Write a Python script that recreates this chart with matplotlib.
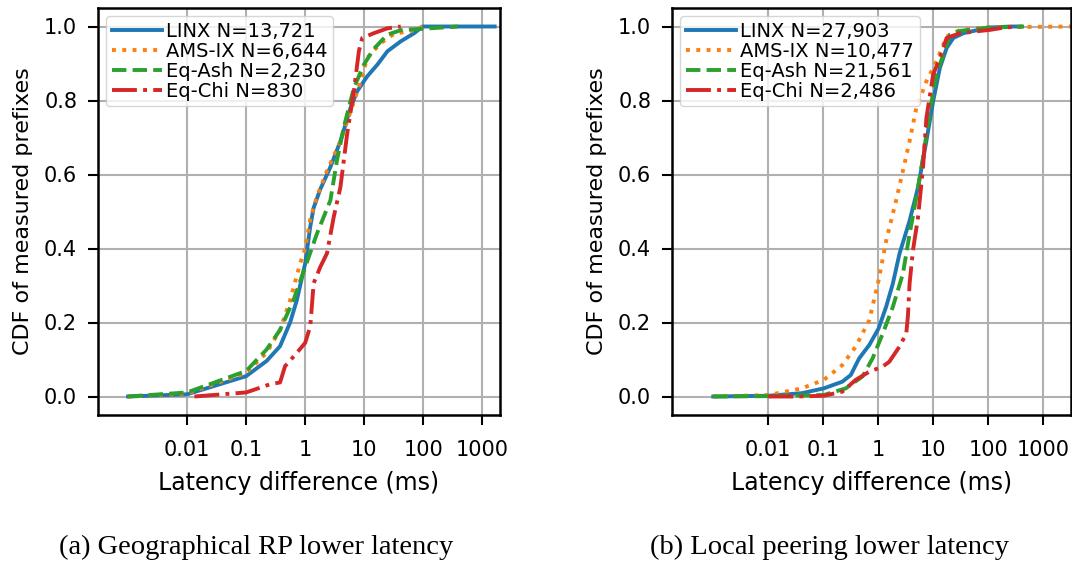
import matplotlib
matplotlib.use("Agg")
import matplotlib.pyplot as plt
from matplotlib.ticker import FixedLocator, NullLocator, FixedFormatter

# (a) Geographical RP lower latency -- CDF points (x in ms)
a_linx_x = [0.001, 0.01, 0.1, 0.222, 0.375, 0.555, 0.721, 1.0, 1.22, 1.39, 1.80, 2.67, 3.95, 5.85, 7.60, 11.2, 16.7, 24.7, 41.6, 70.3, 97.5, 1620]
a_linx_y = [0.0, 0.006, 0.055, 0.096, 0.136, 0.20, 0.26, 0.36, 0.46, 0.51, 0.56, 0.62, 0.69, 0.78, 0.825, 0.865, 0.897, 0.933, 0.96, 0.982, 1.0, 1.0]
a_ams_x = [0.001, 0.01, 0.1, 0.222, 0.375, 0.555, 0.822, 1.0, 1.22, 1.58, 2.34, 3.95, 5.85, 8.67, 11.2, 19.0, 32.1, 70.3, 97.5]
a_ams_y = [0.0, 0.008, 0.064, 0.118, 0.18, 0.26, 0.36, 0.40, 0.48, 0.54, 0.61, 0.69, 0.77, 0.85, 0.915, 0.955, 0.98, 0.99, 1.0]
a_ash_x = [0.001, 0.01, 0.1, 0.222, 0.375, 0.632, 1.0, 1.58, 2.67, 3.47, 4.50, 6.67, 9.86, 14.6, 24.7, 41.6, 385]
a_ash_y = [0.0, 0.011, 0.069, 0.127, 0.18, 0.26, 0.35, 0.44, 0.53, 0.64, 0.727, 0.834, 0.897, 0.94, 0.978, 0.99, 1.0]
a_chi_x = [0.0133, 0.1, 0.253, 0.375, 0.456, 0.721, 1.0, 1.22, 1.39, 1.80, 2.34, 3.04, 3.95, 5.13, 6.67, 8.11, 9.25, 14.6, 24.7, 41.6]
a_chi_y = [0.0, 0.011, 0.033, 0.038, 0.082, 0.118, 0.145, 0.19, 0.306, 0.35, 0.387, 0.485, 0.566, 0.709, 0.825, 0.933, 0.969, 0.982, 0.995, 1.0]

# (b) Local peering lower latency
b_linx_x = [0.001, 0.01, 0.0408, 0.102, 0.221, 0.315, 0.447, 0.682, 1.01, 1.38, 1.83, 2.42, 3.69, 5.25, 7.46, 9.89, 13.1, 17.4, 23.0, 35.1, 101, 252, 384]
b_linx_y = [0.0, 0.002, 0.009, 0.022, 0.04, 0.058, 0.103, 0.139, 0.184, 0.242, 0.305, 0.386, 0.475, 0.565, 0.691, 0.798, 0.888, 0.942, 0.969, 0.982, 0.997, 1.0, 1.0]
b_ams_x = [0.001, 0.01, 0.0408, 0.102, 0.221, 0.388, 0.682, 1.01, 1.38, 2.10, 2.79, 3.69, 4.89, 7.46, 11.4, 17.4, 30.5, 101, 3400]
b_ams_y = [0.0, 0.004, 0.022, 0.045, 0.085, 0.135, 0.206, 0.314, 0.42, 0.53, 0.61, 0.69, 0.78, 0.852, 0.906, 0.973, 0.991, 0.998, 1.0]
b_ash_x = [0.001, 0.01, 0.102, 0.255, 0.514, 0.785, 1.20, 1.83, 2.79, 3.69, 4.89, 6.48, 8.59, 11.4, 15.1, 20.0, 30.5, 101, 442]
b_ash_y = [0.0, 0.001, 0.004, 0.022, 0.054, 0.103, 0.17, 0.242, 0.332, 0.439, 0.538, 0.646, 0.771, 0.87, 0.924, 0.978, 0.988, 0.997, 1.0]
b_chi_x = [0.01, 0.0308, 0.102, 0.221, 0.388, 0.682, 1.20, 1.58, 2.42, 3.21, 3.44, 3.69, 4.25, 5.25, 6.48, 7.46, 9.89, 13.1, 17.4, 30.5, 108, 190, 334]
b_chi_y = [0.0, 0.0, 0.002, 0.013, 0.045, 0.067, 0.081, 0.094, 0.135, 0.17, 0.217, 0.305, 0.395, 0.484, 0.619, 0.753, 0.87, 0.915, 0.969, 0.982, 0.991, 0.997, 1.0]

names = ["LINX", "AMS-IX", "Eq-Ash", "Eq-Chi"]
a_counts = ["13,721", "6,644", "2,230", "830"]
b_counts = ["27,903", "10,477", "21,561", "2,486"]
tick_vals = [0.01, 0.1, 1, 10, 100, 1000]
tick_labels = ["0.01", "0.1", "1", "10", "100", "1000"]

colors = ["#1f77b4", "#ff7f0e", "#2ca02c", "#d62728"]
styles = ["-", ":", "--", "-."]

fig = plt.figure(figsize=(10.72, 5.66), dpi=100)
ax_a = fig.add_axes([98 / 1072, 1 - 415 / 566, 402 / 1072, 407 / 566])
ax_b = fig.add_axes([672 / 1072, 1 - 415 / 566, 399 / 1072, 407 / 566])


def draw_panel(ax, series, counts, xlim, caption, cap_x):
    for (xs, ys), name, n, c, ls in zip(series, names, counts, colors, styles):
        ax.plot(xs, ys, color=c, linestyle=ls, linewidth=2.8, label=f"{name} N={n}")
    ax.set_xscale("log")
    ax.set_xlim(*xlim)
    ax.set_ylim(-0.05, 1.05)
    ax.xaxis.set_major_locator(FixedLocator(tick_vals))
    ax.xaxis.set_major_formatter(FixedFormatter(tick_labels))
    ax.xaxis.set_minor_locator(NullLocator())
    ax.set_yticks([0.0, 0.2, 0.4, 0.6, 0.8, 1.0])
    ax.grid(True, color="#b0b0b0", linewidth=1.5)
    ax.tick_params(labelsize=15, length=7, width=1.5, pad=8)
    ax.tick_params(axis="x", pad=11)
    for sp in ax.spines.values():
        sp.set_linewidth(1.8)
    ax.set_xlabel("Latency difference (ms)", fontsize=17, labelpad=8)
    ax.set_ylabel("CDF of measured prefixes", fontsize=16, labelpad=8)
    ax.legend(loc="upper left", fontsize=14, handlelength=2.6, handletextpad=0.2,
              labelspacing=0.05, borderpad=0.3, borderaxespad=0.4)
    fig.text(cap_x / 1072, 1 - 547 / 566, caption, ha="center", va="center",
             fontsize=20.5, family="Liberation Serif")


draw_panel(ax_a,
           [(a_linx_x, a_linx_y), (a_ams_x, a_ams_y), (a_ash_x, a_ash_y), (a_chi_x, a_chi_y)],
           a_counts, (10 ** -3.51, 10 ** 3.3), "(a) Geographical RP lower latency", 256)
draw_panel(ax_b,
           [(b_linx_x, b_linx_y), (b_ams_x, b_ams_y), (b_ash_x, b_ash_y), (b_chi_x, b_chi_y)],
           b_counts, (10 ** -3.75, 10 ** 3.5), "(b) Local peering lower latency", 829)

fig.savefig("out.png", dpi=100)
